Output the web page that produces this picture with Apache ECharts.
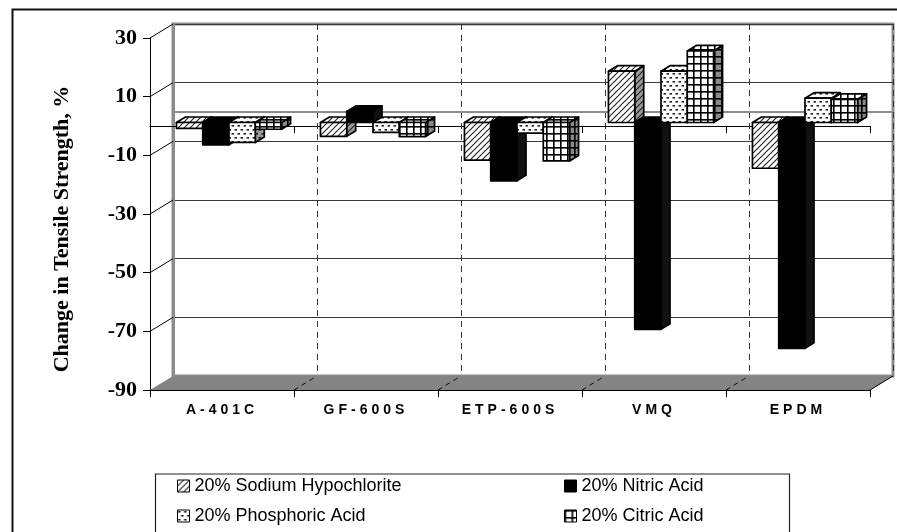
<!DOCTYPE html>
<html>
<head>
<meta charset="utf-8">
<script src="https://cdn.jsdelivr.net/npm/echarts@6/dist/echarts.min.js"></script>
<style>
  html, body { margin: 0; padding: 0; background: #fff; }
  #chart { width: 897px; height: 532px; }
</style>
</head>
<body>
<div id="chart"></div>
<script>
// ---- data ----
const categories = ['A-401C', 'GF-600S', 'ETP-600S', 'VMQ', 'EPDM'];
const seriesNames = ['20% Sodium Hypochlorite', '20% Nitric Acid', '20% Phosphoric Acid', '20% Citric Acid'];
const sodiumHypochlorite = [-2, -4.7, -12.8, 17.5, -15.6];
const nitricAcid = [-7.6, 3.8, -19.9, -70.5, -77];
const phosphoricAcid = [-6.8, -3.4, -3.6, 17.5, 8.3];
const citricAcid = [-2.3, -4.8, -13.1, 24.4, 7.9];
const yTicks = [30, 10, -10, -30, -50, -70, -90];
const Y_MIN = -90, Y_MAX = 30, Y_STEP = 20;
const yTitle = 'Change in Tensile Strength, %';

// ---- 3D look ----
const WALL_DX = 23, WALL_DY = -14;      // front plane -> back wall
const FRONT_DX = 7, FRONT_DY = -3.5;    // front plane -> bar front faces
const BAR_DX = 9, BAR_DY = -5.5;        // bar depth
const GROUP_RATIO = 0.73;

// Chrome canvas supports letterSpacing; give the category labels some tracking.
const TRACKING = [['Liberation Sans', '4px']];
const nativeFillText = CanvasRenderingContext2D.prototype.fillText;
CanvasRenderingContext2D.prototype.fillText = function () {
  if ('letterSpacing' in this) {
    const hit = TRACKING.find(t => this.font.indexOf(t[0]) >= 0);
    this.letterSpacing = hit ? hit[1] : '0px';
  }
  return nativeFillText.apply(this, arguments);
};

// ---- fill patterns ----
function tile(w, h, bg, draw) {
  const c = document.createElement('canvas');
  c.width = w; c.height = h;
  const ctx = c.getContext('2d');
  ctx.fillStyle = bg;
  ctx.fillRect(0, 0, w, h);
  draw(ctx);
  return { image: c, repeat: 'repeat' };
}
function hatch(bg) {
  return tile(6, 6, bg, ctx => {
    ctx.strokeStyle = '#222';
    ctx.lineWidth = 1.1;
    ctx.beginPath();
    ctx.moveTo(-1, 7); ctx.lineTo(7, -1);
    ctx.moveTo(-4, 4); ctx.lineTo(4, -4);
    ctx.moveTo(2, 10); ctx.lineTo(10, 2);
    ctx.stroke();
  });
}
function dots(bg) {
  return tile(6, 8, bg, ctx => {
    ctx.fillStyle = '#222';
    ctx.fillRect(0.5, 1, 2.5, 1.6);
    ctx.fillRect(3.5, 5, 2.5, 1.6);
  });
}
function squares(bg) {
  return tile(7, 7, bg, ctx => {
    ctx.fillStyle = '#000';
    ctx.fillRect(0, 0, 7, 1.6);
    ctx.fillRect(0, 0, 1.6, 7);
  });
}
const looks = [
  { front: hatch('#fff'), top: hatch('#fff'), side: hatch('#9a9a9a'), stroke: '#000' },
  { front: '#000', top: '#000', side: '#111', stroke: '#000' },
  { front: dots('#fff'), top: dots('#fff'), side: dots('#9a9a9a'), stroke: '#000' },
  { front: squares('#fff'), top: squares('#fff'), side: squares('#8a8a8a'), stroke: '#000' }
];
const seriesValues = [sodiumHypochlorite, nitricAcid, phosphoricAcid, citricAcid];

function barRenderer(k) {
  const look = looks[k];
  return function (params, api) {
    const ci = api.value(0), v = api.value(1);
    const p0 = api.coord([ci, 0]), p1 = api.coord([ci, v]);
    const band = api.size([1, 0])[0];
    const gw = band * GROUP_RATIO, w = gw / seriesNames.length;
    const x0 = p0[0] - gw / 2 + k * w + FRONT_DX, x1 = x0 + w;
    const yA = Math.min(p0[1], p1[1]) + FRONT_DY;
    const yB = Math.max(p0[1], p1[1]) + FRONT_DY;
    const edge = { stroke: look.stroke, lineWidth: 1.7, lineJoin: 'round' };
    return {
      type: 'group',
      children: [
        { type: 'polygon', shape: { points: [[x1, yA], [x1 + BAR_DX, yA + BAR_DY], [x1 + BAR_DX, yB + BAR_DY], [x1, yB]] },
          style: Object.assign({ fill: look.side }, edge) },
        { type: 'polygon', shape: { points: [[x0, yA], [x1, yA], [x1 + BAR_DX, yA + BAR_DY], [x0 + BAR_DX, yA + BAR_DY]] },
          style: Object.assign({ fill: look.top }, edge) },
        { type: 'rect', shape: { x: x0, y: yA, width: w, height: yB - yA },
          style: Object.assign({ fill: look.front }, edge) }
      ]
    };
  };
}

// side-wall lines from each front tick back to the wall
function sideWallRenderer(params, api) {
  const p = api.coord([0, api.value(1)]);
  const xL = p[0] - api.size([1, 0])[0] / 2;
  return { type: 'line', shape: { x1: xL, y1: p[1], x2: xL + WALL_DX, y2: p[1] + WALL_DY },
           style: { stroke: '#000', lineWidth: 1 } };
}

// floor slab at the axis minimum
function floorRenderer(params, api) {
  const band = api.size([1, 0])[0];
  const pL = api.coord([0, api.value(1)]);
  const pR = api.coord([categories.length - 1, api.value(1)]);
  const xL = pL[0] - band / 2, xR = pR[0] + band / 2, y = pL[1];
  const children = [
    { type: 'polygon', shape: { points: [[xL, y], [xR, y], [xR + WALL_DX, y + WALL_DY], [xL + WALL_DX, y + WALL_DY]] },
      style: { fill: '#848484', stroke: null } },
    { type: 'line', shape: { x1: xR, y1: y, x2: xR + WALL_DX, y2: y + WALL_DY }, style: { stroke: '#000', lineWidth: 1 } }
  ];
  for (let i = 1; i < categories.length; i++) {
    const x = xL + band * i;
    children.push({ type: 'line', shape: { x1: x, y1: y, x2: x + WALL_DX, y2: y + WALL_DY },
                    style: { stroke: '#111', lineWidth: 1, lineDash: [5, 4] } });
  }
  return { type: 'group', children };
}

// the zero level across the back wall
function backZeroRenderer(params, api) {
  const band = api.size([1, 0])[0];
  const pL = api.coord([0, api.value(1)]);
  const pR = api.coord([categories.length - 1, api.value(1)]);
  return { type: 'line', shape: { x1: pL[0] - band / 2, y1: pL[1], x2: pR[0] + band / 2, y2: pR[1] },
           style: { stroke: '#8c8c8c', lineWidth: 2 } };
}

const chart = echarts.init(document.getElementById('chart'), null, { renderer: 'canvas' });

const valueAxisBase = { type: 'value', min: Y_MIN, max: Y_MAX, interval: Y_STEP };

const option = {
  animation: false,
  backgroundColor: '#fff',
  grid: [
    { left: 150, top: 38, width: 720, height: 352, show: false },
    { left: 173, top: 24, width: 720, height: 352, show: true, borderColor: '#8c8c8c', borderWidth: 3, backgroundColor: 'transparent' }
  ],
  xAxis: [
    { type: 'category', gridIndex: 0, data: categories, position: 'bottom', z: 6,
      axisLine: { onZero: false, lineStyle: { color: '#000', width: 1 } },
      axisTick: { show: true, length: 7, lineStyle: { color: '#000' } },
      axisLabel: { interval: 0, margin: 13, color: '#000', fontFamily: 'Liberation Sans', fontWeight: 'bold', fontSize: 14 },
      splitLine: { show: false } },
    { type: 'category', gridIndex: 0, data: categories, position: 'bottom',
      axisLine: { onZero: true, lineStyle: { color: '#000', width: 1 } },
      axisTick: { show: true, length: 7, lineStyle: { color: '#000' } },
      axisLabel: { show: false }, splitLine: { show: false } },
    { type: 'category', gridIndex: 1, data: categories,
      axisLine: { show: false }, axisTick: { show: false }, axisLabel: { show: false },
      splitLine: { show: true, lineStyle: { color: '#333', width: 1, type: [6, 5] } } }
  ],
  yAxis: [
    Object.assign({ gridIndex: 0 }, valueAxisBase, {
      axisLine: { show: true, lineStyle: { color: '#000', width: 1 } },
      axisTick: { show: true, length: 7, lineStyle: { color: '#000' } },
      axisLabel: { margin: 13, color: '#000', fontFamily: 'Liberation Serif', fontWeight: 'bold', fontSize: 22 },
      splitLine: { show: false } }),
    Object.assign({ gridIndex: 1 }, valueAxisBase, {
      axisLine: { show: true, lineStyle: { color: '#8c8c8c', width: 3 } },
      axisTick: { show: false }, axisLabel: { show: false },
      splitLine: { show: true, lineStyle: { color: '#3a3a3a', width: 1 } } })
  ],
  legend: seriesNames.map((name, i) => ({
    data: [name],
    left: i % 2 === 0 ? 177 : 564,
    top: i < 2 ? 477 : 507,
    padding: 0,
    icon: 'rect',
    itemWidth: 12,
    itemHeight: 12,
    selectedMode: false,
    itemStyle: { borderColor: '#000', borderWidth: 1 },
    textStyle: { fontFamily: 'Arial', fontSize: 18, color: '#000' }
  })),
  graphic: [
    { type: 'rect', left: 10, top: 7, shape: { width: 900, height: 540 }, style: { fill: null, stroke: '#111', lineWidth: 2 }, silent: true },
    { type: 'rect', left: 153, top: 471.5, shape: { width: 634, height: 80 }, style: { fill: null, stroke: '#222', lineWidth: 1.2 }, silent: true },
    { type: 'text', x: 62, y: 229, rotation: Math.PI / 2, silent: true,
      style: { text: yTitle, fill: '#000', fontFamily: 'Liberation Serif', fontWeight: 'bold', fontSize: 22, align: 'center', verticalAlign: 'middle' } }
  ],
  series: [
    { type: 'custom', name: 'sideWall', xAxisIndex: 0, yAxisIndex: 0, silent: true, z: 1,
      renderItem: sideWallRenderer, data: yTicks.filter(t => t !== Y_MIN).map(t => [0, t]) },
    { type: 'custom', name: 'floor', xAxisIndex: 0, yAxisIndex: 0, silent: true, z: 1,
      renderItem: floorRenderer, data: [[0, Y_MIN]] },
    { type: 'custom', name: 'backZero', xAxisIndex: 2, yAxisIndex: 1, silent: true, z: 1,
      renderItem: backZeroRenderer, data: [[0, 0]] }
  ].concat(seriesNames.map((name, k) => ({
    type: 'custom',
    name: name,
    xAxisIndex: 0,
    yAxisIndex: 0,
    z: 3,
    silent: true,
    itemStyle: { color: looks[k].front },
    renderItem: barRenderer(k),
    data: seriesValues[k].map((v, i) => [i, v])
  })))
};

chart.setOption(option);
</script>
</body>
</html>
